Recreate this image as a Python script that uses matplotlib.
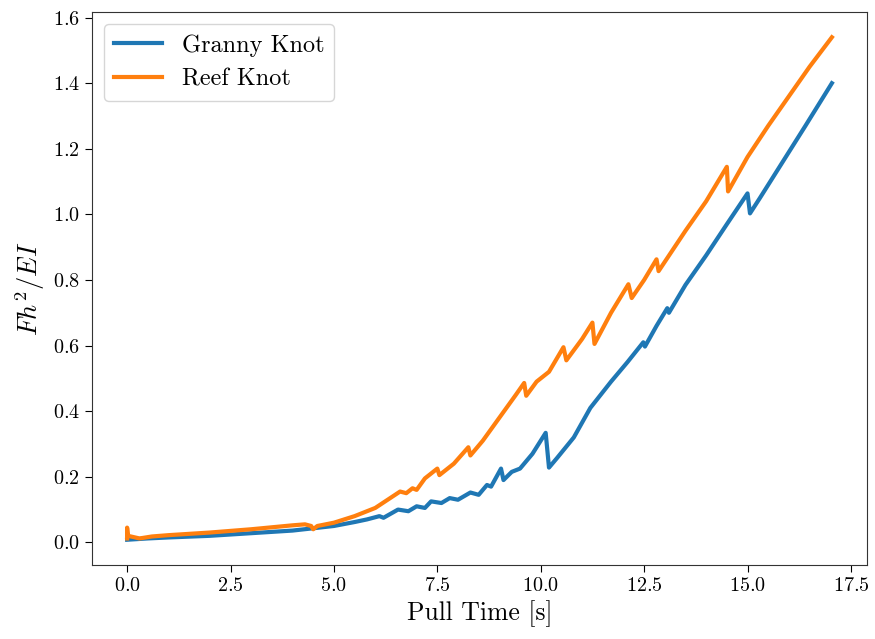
import numpy as np
import matplotlib
matplotlib.use("Agg")
import matplotlib.pyplot as plt

plt.rcParams['font.family'] = 'serif'
plt.rcParams['font.serif'] = ['cmr10', 'DejaVu Serif']
plt.rcParams['mathtext.fontset'] = 'cm'
plt.rcParams['axes.formatter.use_mathtext'] = True

# Granny knot
granny_t = [0.0, 0.5, 1.0, 2.0, 3.0, 4.0, 4.5, 5.0, 5.5, 5.8, 6.1, 6.2, 6.55, 6.8,
            7.0, 7.2, 7.35, 7.6, 7.8, 8.0, 8.3, 8.5, 8.7, 8.8, 9.04, 9.1, 9.3, 9.5,
            9.8, 10.12, 10.2, 10.4, 10.8, 11.2, 11.7, 12.1, 12.48, 12.52, 12.8,
            13.06, 13.1, 13.5, 14.0, 14.5, 15.0, 15.06, 15.3, 15.8, 16.4, 17.04]
granny_f = [0.008, 0.012, 0.015, 0.02, 0.028, 0.036, 0.043, 0.05, 0.062, 0.07,
            0.08, 0.075, 0.1, 0.095, 0.11, 0.105, 0.125, 0.12, 0.135, 0.13, 0.152,
            0.145, 0.175, 0.17, 0.225, 0.19, 0.215, 0.225, 0.27, 0.334, 0.228,
            0.258, 0.32, 0.41, 0.49, 0.55, 0.61, 0.597, 0.66, 0.714, 0.70, 0.785,
            0.875, 0.97, 1.064, 1.003, 1.05, 1.15, 1.27, 1.40]

# Reef knot
reef_t = [0.0, 0.0, 0.02, 0.3, 0.6, 1.0, 2.0, 3.0, 4.0, 4.3, 4.45, 4.5, 4.6, 5.0,
          5.5, 6.0, 6.3, 6.6, 6.75, 6.9, 7.0, 7.2, 7.5, 7.55, 7.9, 8.25, 8.3, 8.6,
          9.0, 9.4, 9.6, 9.65, 9.9, 10.2, 10.55, 10.62, 11.0, 11.25, 11.3, 11.7,
          12.12, 12.2, 12.5, 12.8, 12.85, 13.5, 14.0, 14.5, 14.53, 15.0, 15.5,
          16.0, 16.5, 17.04]
reef_f = [0.012, 0.045, 0.02, 0.012, 0.018, 0.022, 0.03, 0.04, 0.052, 0.055, 0.05,
          0.04, 0.05, 0.06, 0.08, 0.105, 0.13, 0.155, 0.15, 0.165, 0.16, 0.195,
          0.225, 0.205, 0.24, 0.29, 0.265, 0.31, 0.38, 0.45, 0.486, 0.447, 0.49,
          0.52, 0.595, 0.555, 0.62, 0.67, 0.605, 0.70, 0.787, 0.745, 0.80, 0.863,
          0.827, 0.95, 1.04, 1.145, 1.07, 1.175, 1.27, 1.36, 1.45, 1.54]

fig = plt.figure(figsize=(8.75, 6.39), dpi=100)
ax = fig.add_axes([0.105, 0.116, 0.886, 0.865])

ax.plot(granny_t, granny_f, lw=3, label="Granny Knot")
ax.plot(reef_t, reef_f, lw=3, label="Reef Knot")

ax.set_xticks(np.arange(0, 17.6, 2.5))
ax.set_yticks(np.arange(0, 1.61, 0.2))
ax.tick_params(labelsize=14.5, length=5)
for s in ax.spines.values():
    s.set_edgecolor("#333333")
ax.set_xlabel("Pull Time [s]", fontsize=18.5)
ax.set_ylabel(r"$Fh^2/EI$", fontsize=19)
ax.legend(loc="upper left", fontsize=17.5)

fig.savefig("out.png", dpi=100)
